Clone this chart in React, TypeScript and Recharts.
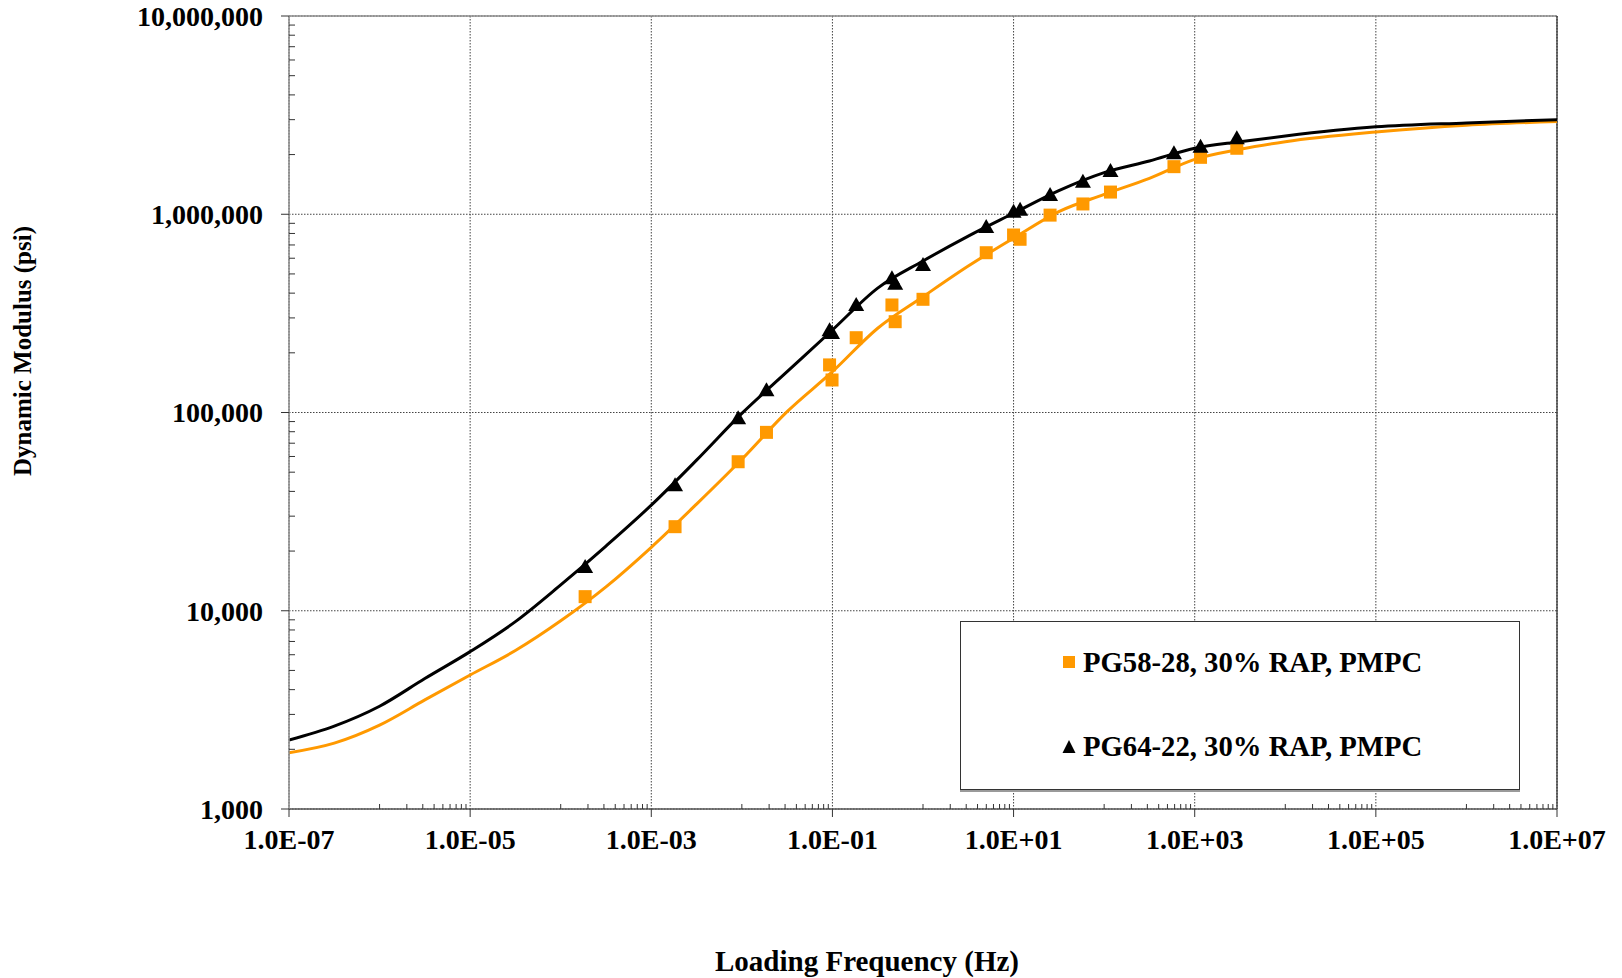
import React from 'react';
import {
  ComposedChart,
  Line,
  Scatter,
  XAxis,
  YAxis,
  CartesianGrid,
  ReferenceLine,
  Legend,
} from 'recharts';

const FONT = '"Liberation Serif", "Times New Roman", Times, serif';
const ORANGE = '#FF9900';

// measured test frequencies (Hz), same for both mixes
const testFreq = [
  1.86e-4, 1.83e-3, 9.1e-3, 0.0187, 0.093, 0.099, 0.183, 0.454, 0.493, 1.0,
  4.99, 10.0, 11.8, 25.3, 58.3, 117.5, 590, 1159, 2917,
];
// measured |E*| (psi)
const pg5828Measured = [
  11780, 26550, 56450, 79400, 173800, 145900, 238400, 348600, 287100, 372400,
  639700, 785700, 747800, 990000, 1127000, 1294000, 1738000, 1937000, 2152000,
];
const pg6422Measured = [
  16820, 43450, 94600, 131000, 263000, 255000, 352500, 480800, 451600, 561000,
  872600, 1040000, 1065000, 1265000, 1476000, 1671000, 2053000, 2217000, 2444000,
];

// master curve read points
const curveFreq = [
  1e-7, 3.16e-7, 1e-6, 3.16e-6, 1e-5, 3.16e-5, 1e-4, 3.16e-4, 1e-3, 3.16e-3,
  1e-2, 3.16e-2, 0.1, 0.316, 1, 3.16, 10, 31.6, 100, 316, 1000, 3160, 1e4,
  1e5, 1e6, 1e7,
];
const pg5828Curve = [
  1923, 2150, 2650, 3550, 4740, 6300, 8900, 13200, 20900, 34500, 58100,
  101000, 160600, 266000, 383700, 548000, 757000, 1031000, 1259000, 1517000,
  1893000, 2128000, 2322000, 2600000, 2815000, 2935000,
];
const pg6422Curve = [
  2230, 2620, 3300, 4550, 6220, 8810, 13500, 21200, 34100, 57500, 99000,
  160600, 260700, 424000, 581000, 776000, 1012000, 1316000, 1622000, 1857000,
  2152000, 2322000, 2483000, 2760000, 2890000, 3000000,
];

const xMajorTicks = [1e-7, 1e-5, 1e-3, 1e-1, 1e1, 1e3, 1e5, 1e7];
const yMajorTicks = [1e3, 1e4, 1e5, 1e6, 1e7];

// minor ticks: x at k*10^odd, y at 2..9 per decade
const xMinorTicks: number[] = [];
[-6, -4, -2, 0, 2, 4, 6].forEach((p) => {
  for (let k = 1; k <= 9; k++) xMinorTicks.push(k * Math.pow(10, p));
});
const yMinorTicks: number[] = [];
[3, 4, 5, 6].forEach((p) => {
  for (let k = 2; k <= 9; k++) yMinorTicks.push(k * Math.pow(10, p));
});

const toPoints = (xs: number[], ys: number[]) => xs.map((f, i) => ({ f, e: ys[i] }));

const pg5828Points = toPoints(testFreq, pg5828Measured);
const pg6422Points = toPoints(testFreq, pg6422Measured);
const pg5828Line = toPoints(curveFreq, pg5828Curve);
const pg6422Line = toPoints(curveFreq, pg6422Curve);

const formatFreq = (v: number) => {
  const p = Math.round(Math.log10(v));
  return `1.0E${p < 0 ? '-' : '+'}${String(Math.abs(p)).padStart(2, '0')}`;
};
const formatModulus = (v: number) => Math.round(v).toLocaleString('en-US');
const blank = () => '';

const tickStyle = { fontFamily: FONT, fontSize: 28, fontWeight: 'bold', fill: '#000' };

const SquareDot = (props: any) => {
  const { cx, cy } = props;
  if (cx == null || cy == null) return null;
  return <rect x={cx - 6.5} y={cy - 6.5} width={13} height={13} fill={ORANGE} />;
};

const TriangleDot = (props: any) => {
  const { cx, cy } = props;
  if (cx == null || cy == null) return null;
  return (
    <polygon
      points={`${cx},${cy - 7} ${cx - 8},${cy + 7} ${cx + 8},${cy + 7}`}
      fill="#000"
    />
  );
};

const YTitle = () => (
  <text
    x={31}
    y={351}
    transform="rotate(-90 31 351)"
    textAnchor="middle"
    fontFamily={FONT}
    fontWeight="bold"
    fontSize={25}
    fill="#000"
  >
    Dynamic Modulus (psi)
  </text>
);

const XTitle = () => (
  <text
    x={867}
    y={971}
    textAnchor="middle"
    fontFamily={FONT}
    fontWeight="bold"
    fontSize={29}
    fill="#000"
  >
    Loading Frequency (Hz)
  </text>
);

const LegendBox = () => (
  <div
    style={{
      width: 560,
      height: 169,
      boxSizing: 'border-box',
      border: '1px solid #333',
      background: '#fff',
      boxShadow: '0 2px 0 #9a9a9a',
    }}
  >
    <svg width={558} height={167} style={{ display: 'block' }}>
      <rect x={102} y={34} width={12} height={12} fill={ORANGE} />
      <text x={122} y={50} fontFamily={FONT} fontWeight="bold" fontSize={28.7} fill="#000">
        PG58-28, 30% RAP, PMPC
      </text>
      <polygon points="108,118 101.5,131 114.5,131" fill="#000" />
      <text x={122} y={134} fontFamily={FONT} fontWeight="bold" fontSize={28.7} fill="#000">
        PG64-22, 30% RAP, PMPC
      </text>
    </svg>
  </div>
);

export default function App() {
  return (
    <div style={{ position: 'absolute', left: 0, top: 0, background: '#fff' }}>
      <ComposedChart
        width={1622}
        height={978}
        margin={{ top: 16, right: 65, bottom: 0, left: 0 }}
      >
        <CartesianGrid stroke="#444" strokeDasharray="1.5 1.5" strokeWidth={1} />
        <XAxis
          dataKey="f"
          type="number"
          scale="log"
          domain={[1e-7, 1e7]}
          allowDataOverflow
          ticks={xMajorTicks}
          interval={0}
          tickFormatter={formatFreq}
          tick={tickStyle}
          tickSize={8}
          tickMargin={12}
          height={169}
          axisLine={{ stroke: '#555', strokeWidth: 1.5 }}
          tickLine={{ stroke: '#333' }}
          label={XTitle}
        />
        <XAxis
          xAxisId="minor"
          dataKey="f"
          type="number"
          scale="log"
          domain={[1e-7, 1e7]}
          allowDataOverflow
          ticks={xMinorTicks}
          interval={0}
          mirror
          tickFormatter={blank}
          tick={{ fontSize: 1 }}
          axisLine={false}
          tickSize={5}
          tickLine={{ stroke: '#333' }}
        />
        <YAxis
          type="number"
          scale="log"
          domain={[1e3, 1e7]}
          allowDataOverflow
          ticks={yMajorTicks}
          interval={0}
          tickFormatter={formatModulus}
          tick={tickStyle}
          tickSize={8}
          tickMargin={18}
          width={289}
          axisLine={{ stroke: '#888', strokeWidth: 1.5 }}
          tickLine={{ stroke: '#333' }}
          label={YTitle}
        />
        <YAxis
          yAxisId="minor"
          type="number"
          scale="log"
          domain={[1e3, 1e7]}
          allowDataOverflow
          ticks={yMinorTicks}
          interval={0}
          mirror
          tickFormatter={blank}
          tick={{ fontSize: 1 }}
          axisLine={false}
          tickSize={6}
          tickLine={{ stroke: '#333' }}
        />
        <ReferenceLine y={1e7} stroke="#8c8c8c" strokeWidth={1.5} />
        <ReferenceLine x={1e7} stroke="#222" strokeWidth={1.2} />

        <Line
          data={pg5828Line}
          dataKey="e"
          type="monotone"
          stroke={ORANGE}
          strokeWidth={3}
          dot={false}
          activeDot={false}
          legendType="none"
          isAnimationActive={false}
        />
        <Scatter
          name="PG58-28, 30% RAP, PMPC"
          data={pg5828Points}
          dataKey="e"
          fill={ORANGE}
          shape={SquareDot}
          isAnimationActive={false}
        />
        <Line
          data={pg6422Line}
          dataKey="e"
          type="monotone"
          stroke="#000"
          strokeWidth={3}
          dot={false}
          activeDot={false}
          legendType="none"
          isAnimationActive={false}
        />
        <Scatter
          name="PG64-22, 30% RAP, PMPC"
          data={pg6422Points}
          dataKey="e"
          fill="#000"
          shape={TriangleDot}
          isAnimationActive={false}
        />
        <Legend
          layout="horizontal"
          verticalAlign="middle"
          align="center"
          content={LegendBox}
          wrapperStyle={{ left: 960, top: 621, width: 560, height: 169 }}
        />
      </ComposedChart>
    </div>
  );
}
